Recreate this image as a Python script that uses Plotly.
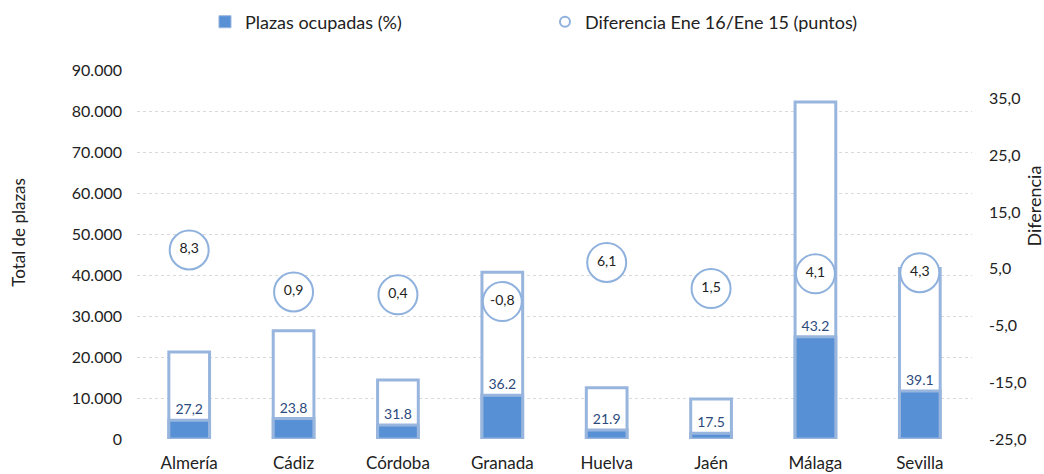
import plotly.graph_objects as go

provincias = ["Almería", "Cádiz", "Córdoba", "Granada", "Huelva", "Jaén", "Málaga", "Sevilla"]
total_plazas = [21200, 26400, 14400, 40700, 12500, 9750, 82200, 41600]
plazas_ocupadas = [4600, 5000, 3400, 10700, 2200, 1400, 24950, 11700]
pct_ocupadas = ["27,2", "23.8", "31.8", "36.2", "21.9", "17.5", "43.2", "39.1"]
diferencia = [8.3, 0.9, 0.4, -0.8, 6.1, 1.5, 4.1, 4.3]
dif_labels = ["8,3", "0,9", "0,4", "-0,8", "6,1", "1,5", "4,1", "4,3"]
dif_ticks = [-25, -15, -5, 5, 15, 25, 35]
dif_ticktext = ["-25,0", "-15,0", "-5,0", "5,0", "15,0", "25,0", "35,0"]

FONT = "Lato"
OUTLINE = "#98b5dd"
FILL = "#5890d6"

fig = go.Figure()

fig.add_trace(go.Bar(
    x=provincias, y=total_plazas, width=0.39,
    marker=dict(color="white", line=dict(color=OUTLINE, width=3)),
    showlegend=False, hoverinfo="skip",
))
fig.add_trace(go.Bar(
    x=provincias, y=plazas_ocupadas, width=0.39,
    marker=dict(color=FILL, line=dict(color=OUTLINE, width=3)),
    text=pct_ocupadas, textposition="outside", cliponaxis=False,
    textfont=dict(family=FONT, size=14, color="#2c4a7c"),
    name="Plazas ocupadas (%)", showlegend=False,
))
fig.add_trace(go.Scatter(
    x=provincias, y=diferencia, yaxis="y2", mode="markers+text",
    marker=dict(size=39, color="white", line=dict(color="#8fb1dd", width=2)),
    text=dif_labels, textposition="middle center",
    textfont=dict(family=FONT, size=14, color="#222222"),
    name="Diferencia Ene 16/Ene 15 (puntos)", showlegend=False, cliponaxis=False,
))
# legend entries
fig.add_trace(go.Bar(
    x=[None], y=[None], name="Plazas ocupadas (%)",
    marker=dict(color=FILL, line=dict(color=OUTLINE, width=1)),
))
fig.add_trace(go.Scatter(
    x=[None], y=[None], yaxis="y2", mode="markers", name="Diferencia Ene 16/Ene 15 (puntos)",
    marker=dict(size=10, color="white", line=dict(color="#8fb1dd", width=2)),
))

fig.update_layout(
    width=1044, height=474,
    margin=dict(l=137, r=72, t=70, b=35, autoexpand=False),
    plot_bgcolor="white", paper_bgcolor="white",
    barmode="overlay",
    separators=",.",
    font=dict(family=FONT, size=16, color="#222222"),
    legend=dict(orientation="h", x=0.0814, y=1.13, xanchor="left", yanchor="middle",
                entrywidth=295, entrywidthmode="pixels", itemwidth=30,
                font=dict(family=FONT, size=18, color="#222222"), traceorder="normal"),
    xaxis=dict(range=[-0.5, 7.5], showgrid=False, showline=False, ticks="",
               ticklabelstandoff=12, automargin=False,
               tickfont=dict(family=FONT, size=17, color="#222222")),
    yaxis=dict(range=[0, 90000], dtick=10000, tickformat=",d", showgrid=True,
               gridcolor="#d9d9d9", griddash="dot", gridwidth=1, automargin=False,
               zeroline=False, showline=False, ticklabelstandoff=14,
               tickfont=dict(family=FONT, size=16, color="#222222")),
    yaxis2=dict(overlaying="y", side="right", range=[-25, 40],
                tickvals=dif_ticks, ticktext=dif_ticktext,
                showgrid=False, zeroline=False, showline=False,
                ticklabelstandoff=16, automargin=False,
                tickfont=dict(family=FONT, size=16, color="#222222")),
    annotations=[
        dict(text="Total de plazas", xref="paper", yref="paper", x=-0.142, y=0.56,
             textangle=-90, showarrow=False, xanchor="center", yanchor="middle",
             font=dict(family=FONT, size=17, color="#222222")),
        dict(text="Diferencia", xref="paper", yref="paper", x=1.0731, y=0.63,
             textangle=-90, showarrow=False, xanchor="center", yanchor="middle",
             font=dict(family=FONT, size=18, color="#222222")),
    ],
)

fig.write_html("out.html", config={"displayModeBar": False},
               post_script="document.body.style.margin='0';document.body.style.padding='0';")
